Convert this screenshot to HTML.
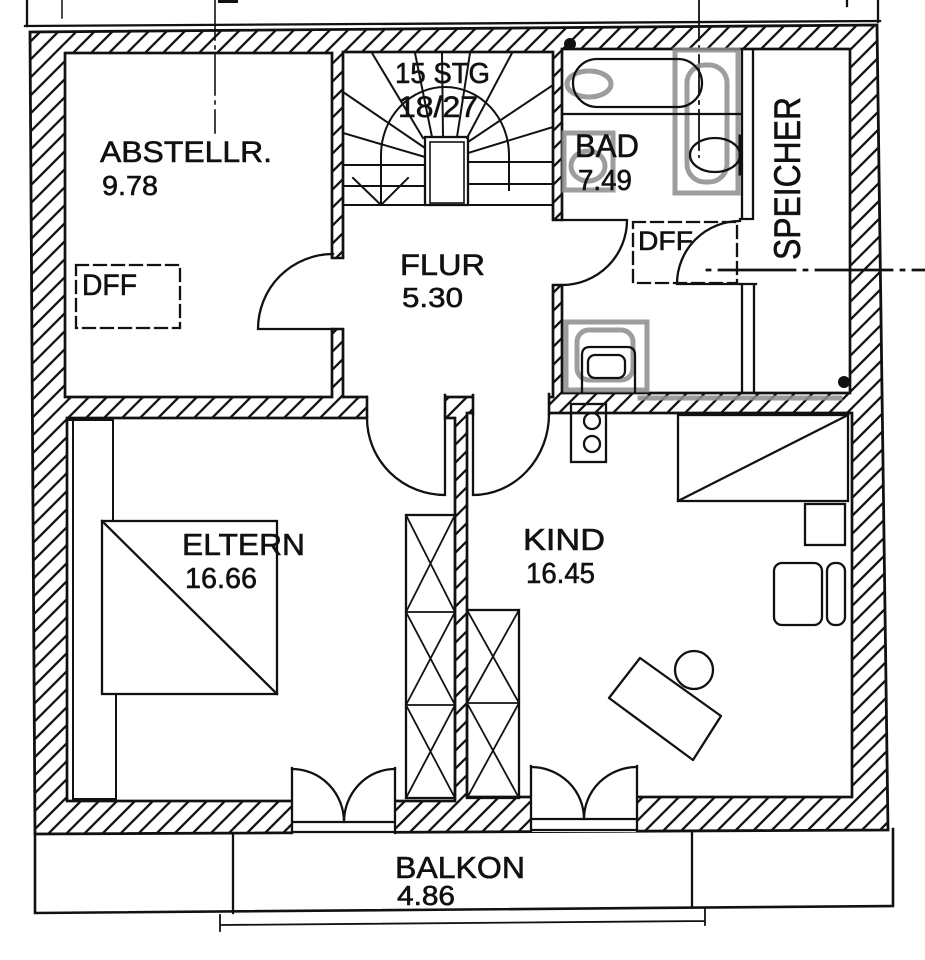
<!DOCTYPE html>
<html><head><meta charset="utf-8"><style>html,body{margin:0;padding:0;background:#fff}svg{display:block}</style></head>
<body>
<svg width="925" height="960" viewBox="0 0 925 960" xmlns="http://www.w3.org/2000/svg">
<defs>
<pattern id="h" patternUnits="userSpaceOnUse" width="18" height="18">
<rect width="18" height="18" fill="#fff"/>
<path d="M-4,4 L4,-4 M0,18 L18,0 M14,22 L22,14" stroke="#111" stroke-width="2.3"/>
</pattern>
</defs>
<rect width="925" height="960" fill="#fff"/>
<g fill="none" stroke="#111" stroke-width="2.3" stroke-linecap="square">
<!-- top reference lines -->
<line x1="25" y1="26" x2="880" y2="21"/>
<line x1="27" y1="0" x2="27" y2="26"/>
<line x1="62" y1="0" x2="62" y2="18" stroke-width="1.5"/>
<line x1="878" y1="0" x2="878" y2="22"/>
<line x1="847" y1="0" x2="847" y2="6"/>
<rect x="218" y="0" width="20" height="3" fill="#111" stroke="none"/>

<!-- outer hatched walls -->
<polygon points="30,32 877,25 888,830 35,834" fill="url(#h)" stroke-width="2.8"/>

<!-- rooms -->
<g stroke-width="2.7">
<rect x="65" y="53" width="267" height="344" fill="#fff"/>
<rect x="343" y="52" width="210" height="345" fill="#fff"/>
<rect x="562" y="49" width="288" height="344" fill="#fff"/>
<rect x="67" y="418" width="388" height="383" fill="#fff"/>
<rect x="467" y="413" width="385" height="384" fill="#fff"/>
</g>

<!-- openings -->
<g fill="#fff" stroke="none">
<rect x="330" y="258" width="15" height="71"/>
<rect x="551" y="220" width="13" height="65"/>
<rect x="368" y="394" width="76" height="26"/>
<rect x="474" y="393" width="74" height="22"/>
<rect x="293" y="799" width="101" height="36"/>
<rect x="531" y="795" width="105" height="37"/>
</g>

<!-- jambs -->
<path d="M332,258 H343 M332,329 H343 M553,220 H562 M553,285 H562 M367,397 V418 M445,395 V418 M473,395 V414 M549,394 V414" stroke-width="2.6"/>

<!-- doors -->
<path d="M333,329 H258 A75,75 0 0,1 333,254"/>
<path d="M562,220 H627 A65,65 0 0,1 562,285"/>
<path d="M740,284 H677 A63,63 0 0,1 740,221"/>
<path d="M445,418 V495 A78,77 0 0,1 367,418"/>
<path d="M473,414 V495 A76,81 0 0,0 549,414"/>
<path d="M292,768 V833 M395,768 V833 M292,822 H395 M292,832 H395"/>
<path d="M292,769 A52,53 0 0,1 344,822 M395,769 A51,53 0 0,0 344,822"/>
<path d="M531,766 V831 M637,766 V831 M531,819 H637 M531,830 H637"/>
<path d="M531,767 A53,52 0 0,1 584,819 M637,767 A53,52 0 0,0 584,819"/>

<!-- balcony -->
<path d="M35,834 V913 L893,906 V829" stroke-width="2.6"/>
<path d="M233,835 V913 M692,831 V907"/>
<path d="M220,925 L705,921 M220,915 V931 M705,909 V925" stroke-width="1.8"/>

<!-- axis lines -->
<line x1="215" y1="0" x2="215" y2="133" stroke-width="1.6" stroke-dasharray="40,6,3,6"/>
<line x1="699" y1="0" x2="699" y2="157" stroke-width="1.8" stroke-dasharray="40,6,3,6"/>
<line x1="707" y1="270" x2="925" y2="270" stroke-width="2.8" stroke-dasharray="3,9,76,9"/>

<!-- stairs -->
<rect x="425" y="137" width="43" height="68"/>
<rect x="430" y="142" width="34" height="61" stroke-width="1.6"/>
<path d="M343,205 H553 M343,165 H425 M343,186 H425 M468,162 H553 M468,184 H553" stroke-width="2"/>
<path d="M343,92 L425,148 M343,133 L425,157 M372,53 L423,138 M415,53 L432,137 M442,53 L443,137 M470,53 L457,137 M512,53 L467,138 M553,85 L468,142 M553,127 L468,153" stroke-width="2"/>
<path d="M381,205 V155 A64,68 0 0,1 509,155 V190" stroke-width="2"/>
<path d="M353,178 L381,205 L408,178" stroke-width="2"/>

<!-- bath -->
<g stroke="#8c8c8c" stroke-width="5" opacity="0.85">
<ellipse cx="589" cy="84" rx="22" ry="13"/>
<rect x="675" y="50" width="63" height="143"/>
<rect x="687" y="65" width="40" height="117" rx="18"/>
<rect x="564" y="133" width="49" height="57"/>
<ellipse cx="588" cy="166" rx="17" ry="15"/>
<rect x="566" y="322" width="81" height="68"/>
<rect x="577" y="330" width="56" height="50" rx="12"/>
<line x1="640" y1="398" x2="840" y2="398"/>
</g>
<rect x="573" y="59" width="129" height="48" rx="24"/>
<path d="M562,114 H740"/>
<ellipse cx="715" cy="155" rx="25" ry="17"/>
<path d="M740,136 V174" stroke-width="3"/>
<path d="M742,49 V219 M753,49 V219 M740,219 H753 M742,284 V393 M754,284 V393 M740,284 H756"/>
<rect x="633" y="222" width="104" height="61" stroke-dasharray="12,6"/>
<path d="M582,392 V355 Q582,347 590,347 H627 Q635,347 635,355 V392"/>
<rect x="588" y="355" width="37" height="23" rx="7"/>
<circle cx="570" cy="44" r="6" fill="#111" stroke="none"/>
<circle cx="844" cy="382" r="6" fill="#111" stroke="none"/>

<!-- abstellraum -->
<rect x="76" y="265" width="104" height="63" stroke-dasharray="12,6"/>

<!-- eltern -->
<path d="M73,420 V799 H116 V694 M67,420 H113 V521" stroke-width="2"/>
<rect x="102" y="521" width="175" height="173"/>
<path d="M102,521 L277,694"/>
<rect x="406" y="515" width="49" height="283"/>
<path d="M406,612 H455 M406,705 H455 M406,515 L455,612 M455,515 L406,612 M406,612 L455,705 M455,612 L406,705 M406,705 L455,798 M455,705 L406,798" stroke-width="1.8"/>

<!-- kind -->
<rect x="467" y="610" width="52" height="188"/>
<path d="M467,703 H519 M467,610 L519,703 M519,610 L467,703 M467,703 L519,798 M519,703 L467,798" stroke-width="1.8"/>
<rect x="571" y="404" width="35" height="58"/>
<circle cx="592" cy="421" r="8"/>
<circle cx="592" cy="444" r="8"/>
<rect x="678" y="415" width="170" height="86"/>
<path d="M678,501 L848,415"/>
<rect x="805" y="504" width="40" height="41"/>
<rect x="774" y="563" width="48" height="62" rx="8"/>
<rect x="827" y="563" width="18" height="62" rx="8"/>
<polygon points="640,658 721,716 693,760 609,698" stroke-linejoin="round"/>
<circle cx="694" cy="670" r="19"/>
</g>

<g font-family="'Liberation Sans', Arial, sans-serif" fill="#111" stroke="#111" stroke-width="0.6">
<text x="100" y="162" font-size="30" textLength="172" lengthAdjust="spacingAndGlyphs">ABSTELLR.</text>
<text x="102" y="195" font-size="28" textLength="56" lengthAdjust="spacingAndGlyphs">9.78</text>
<text x="82" y="295" font-size="30" textLength="55" lengthAdjust="spacingAndGlyphs">DFF</text>
<text x="395" y="83" font-size="29" textLength="95" lengthAdjust="spacingAndGlyphs">15 STG</text>
<text x="398" y="117" font-size="30" textLength="80" lengthAdjust="spacingAndGlyphs">18/27</text>
<text x="400" y="275" font-size="30" textLength="85" lengthAdjust="spacingAndGlyphs">FLUR</text>
<text x="402" y="307" font-size="28" textLength="61" lengthAdjust="spacingAndGlyphs">5.30</text>
<text x="575" y="157" font-size="32" textLength="64" lengthAdjust="spacingAndGlyphs">BAD</text>
<text x="578" y="190" font-size="29" textLength="54" lengthAdjust="spacingAndGlyphs">7.49</text>
<text x="638" y="250" font-size="27" textLength="55" lengthAdjust="spacingAndGlyphs">DFF</text>
<text transform="translate(800,260) rotate(-90)" x="0" y="0" font-size="37" textLength="163" lengthAdjust="spacingAndGlyphs">SPEICHER</text>
<text x="182" y="555" font-size="31" textLength="123" lengthAdjust="spacingAndGlyphs">ELTERN</text>
<text x="185" y="588" font-size="29" textLength="72" lengthAdjust="spacingAndGlyphs">16.66</text>
<text x="523" y="550" font-size="31" textLength="82" lengthAdjust="spacingAndGlyphs">KIND</text>
<text x="526" y="583" font-size="29" textLength="69" lengthAdjust="spacingAndGlyphs">16.45</text>
<text x="395" y="878" font-size="31" textLength="130" lengthAdjust="spacingAndGlyphs">BALKON</text>
<text x="397" y="905" font-size="28" textLength="58" lengthAdjust="spacingAndGlyphs">4.86</text>
</g>
</svg>
</body></html>
